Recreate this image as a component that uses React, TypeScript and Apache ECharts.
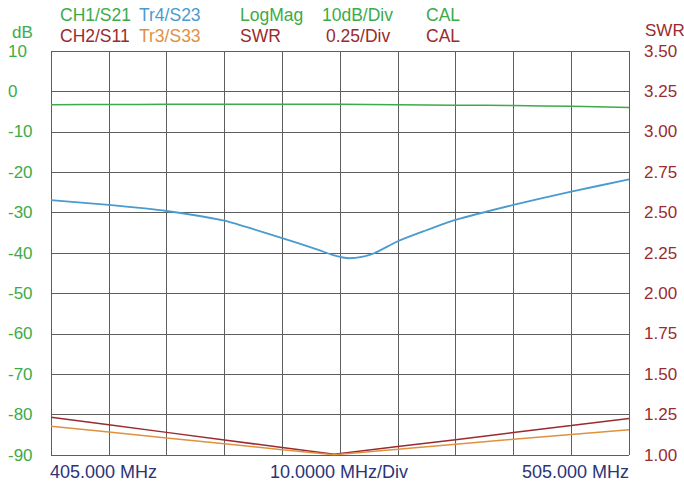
import React, { useEffect, useRef } from "react";
import * as echarts from "echarts";

// ---- data ----
const s21Freq = [405, 415, 425, 435, 445, 455, 465, 475, 485, 495, 505];
const s21Db = [-3.3, -3.25, -3.2, -3.15, -3.15, -3.2, -3.3, -3.4, -3.5, -3.7, -4.0];

const s23Freq = [405, 415, 425, 435, 440, 445, 451, 454, 456.5, 459, 461, 465, 469.5, 475, 485, 495, 505];
const s23Db = [-26.9, -28.1, -29.6, -32.0, -34.1, -36.3, -39.1, -40.6, -41.3, -40.9, -40.0, -37.1, -34.6, -31.8, -28.1, -24.8, -21.8];

const s11Freq = [405, 415, 425, 435, 445, 454, 465, 475, 485, 495, 505];
const s11Swr = [1.233, 1.187, 1.14, 1.093, 1.046, 1.004, 1.052, 1.095, 1.139, 1.182, 1.226];

const s33Freq = [405, 415, 425, 435, 445, 454, 465, 475, 485, 495, 505];
const s33Swr = [1.178, 1.142, 1.105, 1.069, 1.033, 1.002, 1.036, 1.066, 1.097, 1.127, 1.157];

const legendRow1 = ["CH1/S21", "Tr4/S23", "LogMag", "10dB/Div", "CAL"];
const legendRow2 = ["CH2/S11", "Tr3/S33", "SWR", "0.25/Div", "CAL"];
const bottomLabels = ["405.000 MHz", "10.0000 MHz/Div", "505.000 MHz"];
const leftUnit = "dB";
const rightUnit = "SWR";

const GREEN = "#3dab48";
const BLUE = "#4a9bd0";
const RED = "#9a2b2e";
const ORANGE = "#e0913f";
const NAVY = "#2c3477";
const FONT = "'Liberation Sans', Arial, sans-serif";

const row1Colors = [GREEN, BLUE, GREEN, GREEN, GREEN];
const row2Colors = [RED, ORANGE, RED, RED, RED];
const row1X = [60, 139, 240, 322, 426];
const row2X = [60, 139, 240, 326, 426];

const zip = (xs: number[], ys: number[]) => xs.map((x, i) => [x, ys[i]]);

function txt(text: string, x: number, y: number, fill: string, align = "left", size = 17.5) {
  return {
    type: "text",
    x,
    y,
    style: {
      text,
      fill,
      fontSize: size,
      fontFamily: FONT,
      align,
      verticalAlign: "middle",
      textAlign: align,
      textVerticalAlign: "middle",
    },
  };
}

export default function App() {
  const ref = useRef<HTMLDivElement>(null);
  useEffect(() => {
    if (!ref.current) return;
    const chart = echarts.init(ref.current, undefined, { renderer: "svg" });
    const graphics: any[] = [];
    legendRow1.forEach((t, i) => graphics.push(txt(t, row1X[i], 15, row1Colors[i])));
    legendRow2.forEach((t, i) => graphics.push(txt(t, row2X[i], 36, row2Colors[i])));
    graphics.push(txt(leftUnit, 12, 32, GREEN, "left", 17));
    graphics.push(txt(rightUnit, 645, 30, RED, "left", 17));
    graphics.push(txt(bottomLabels[0], 50, 472, NAVY, "left", 18));
    graphics.push(txt(bottomLabels[1], 339, 472, NAVY, "center", 18));
    graphics.push(txt(bottomLabels[2], 629, 472, NAVY, "right", 18));

    chart.setOption({
      animation: false,
      backgroundColor: "#ffffff",
      grid: { left: 51, right: 55, top: 51, bottom: 34, show: false },
      graphic: graphics,
      xAxis: {
        type: "value",
        min: 405,
        max: 505,
        interval: 10,
        axisLine: { show: false },
        axisTick: { show: false },
        axisLabel: { show: false },
        splitLine: { show: true, lineStyle: { color: "#5e5e5e", width: 1 } },
      },
      yAxis: [
        {
          type: "value",
          min: -90,
          max: 10,
          interval: 10,
          axisLine: { show: false },
          axisTick: { show: false },
          axisLabel: {
            color: GREEN,
            fontSize: 17,
            fontFamily: FONT,
            align: "left",
            margin: 43,
            padding: [0, 0, 4, 0],
          },
          splitLine: { show: true, lineStyle: { color: "#5e5e5e", width: 1 } },
        },
        {
          type: "value",
          min: 1,
          max: 3.5,
          interval: 0.25,
          position: "right",
          axisLine: { show: false },
          axisTick: { show: false },
          axisLabel: {
            color: RED,
            fontSize: 17,
            fontFamily: FONT,
            margin: 15,
            padding: [0, 0, 4, 0],
            formatter: (v: number) => v.toFixed(2),
          },
          splitLine: { show: false },
        },
      ],
      series: [
        {
          type: "line",
          yAxisIndex: 0,
          data: zip(s21Freq, s21Db),
          smooth: 0.3,
          showSymbol: false,
          lineStyle: { color: GREEN, width: 1.5 },
        },
        {
          type: "line",
          yAxisIndex: 0,
          data: zip(s23Freq, s23Db),
          smooth: 0.2,
          showSymbol: false,
          lineStyle: { color: BLUE, width: 1.8 },
        },
        {
          type: "line",
          yAxisIndex: 1,
          data: zip(s11Freq, s11Swr),
          showSymbol: false,
          lineStyle: { color: RED, width: 1.5 },
        },
        {
          type: "line",
          yAxisIndex: 1,
          data: zip(s33Freq, s33Swr),
          showSymbol: false,
          lineStyle: { color: ORANGE, width: 1.5 },
        },
      ],
    });
    return () => chart.dispose();
  }, []);
  return (
    <div
      ref={ref}
      style={{ position: "absolute", left: 0, top: 0, width: 684, height: 489 }}
    />
  );
}
